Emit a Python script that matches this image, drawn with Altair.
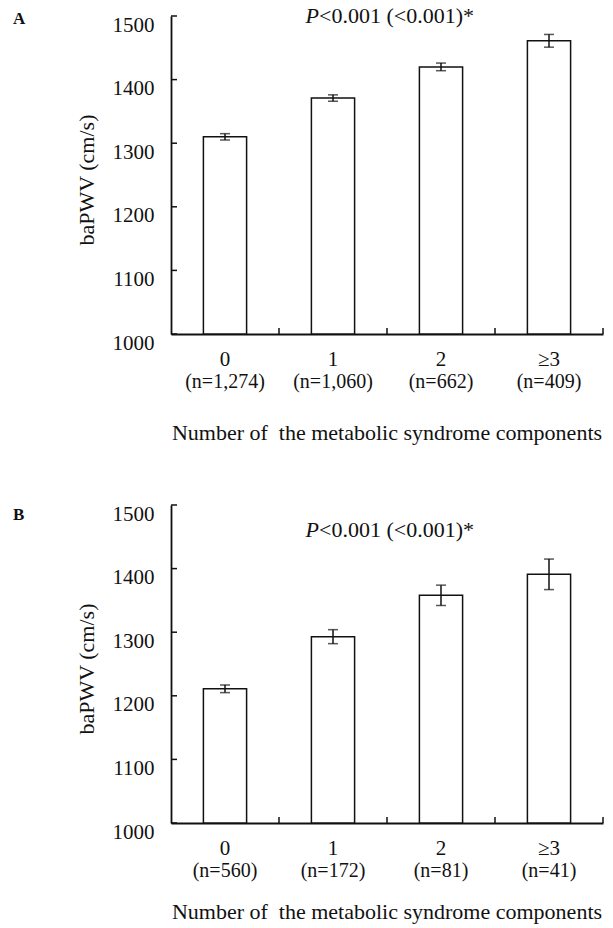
import altair as alt
import pandas as pd

# ---- data ----
categories = ["0", "1", "2", "≥3"]
n_labels_A = ["(n=1,274)", "(n=1,060)", "(n=662)", "(n=409)"]
mean_A = [1310, 1371, 1420, 1461]
err_A = [5, 5, 6, 10]
n_labels_B = ["(n=560)", "(n=172)", "(n=81)", "(n=41)"]
mean_B = [1211, 1293, 1358, 1391]
err_B = [6, 11, 16, 24]
y_ticks = [1000, 1100, 1200, 1300, 1400, 1500]
x_title = "Number of\u00a0 the metabolic syndrome components"
y_title = "baPWV (cm/s)"
p_italic = "P"
p_rest = "<0.001 (<0.001)*"

W, H = 432, 318
FONT = "Liberation Serif"
INK = "#111111"

X_AXIS = alt.Axis(labels=False, ticks=False, title=None, grid=False,
                  domainColor=INK, domainWidth=1.8)
Y_AXIS = alt.Axis(values=y_ticks, format="d", title=None, grid=False,
                  ticks=False, tickSize=0, labelPadding=17, labelFont=FONT,
                  labelFontSize=21, labelColor=INK,
                  labelBaseline="alphabetic", labelOffset=15,
                  domainColor=INK, domainWidth=1.8)
YS = alt.Scale(domain=[1000, 1500], nice=False, zero=False)
XS = alt.Scale(paddingInner=0, paddingOuter=0)


def one(text):
    return pd.DataFrame({"t": [text]})


def xcat(**kw):
    return alt.X("cat:N", sort=categories, scale=XS, axis=X_AXIS, **kw)


def yq(field):
    return alt.Y(field, scale=YS, axis=Y_AXIS)


def panel(label, means, errs, nlabs, p_y, label_y, title_y, frame_y):
    df = pd.DataFrame({
        "cat": categories,
        "mean": means,
        "lo": [m - e for m, e in zip(means, errs)],
        "hi": [m + e for m, e in zip(means, errs)],
        "n": nlabs,
    })
    base = alt.Chart(df)

    bars = base.mark_bar(
        width=alt.RelativeBandSize(0.4), fill="white", stroke=INK, strokeWidth=1.5
    ).encode(x=xcat(), y=yq("mean:Q"), y2=alt.datum(1000))
    err = base.mark_rule(color=INK, strokeWidth=1.5).encode(
        x=xcat(), y=yq("lo:Q"), y2="hi:Q")
    cap_lo = base.mark_tick(orient="horizontal", size=10, thickness=1.5,
                            color=INK).encode(x=xcat(), y=yq("lo:Q"))
    cap_hi = base.mark_tick(orient="horizontal", size=10, thickness=1.5,
                            color=INK).encode(x=xcat(), y=yq("hi:Q"))
    ytick = alt.Chart(pd.DataFrame({"v": y_ticks})).mark_rule(
        color=INK, strokeWidth=1.5
    ).encode(y=yq("v:Q"), x=alt.value(0), x2=alt.value(6))
    xtick = base.mark_rule(color=INK, strokeWidth=1.5).encode(
        x=xcat(bandPosition=1), y=alt.value(H), y2=alt.value(H - 6))
    cat_text = base.mark_text(font=FONT, fontSize=21, baseline="alphabetic",
                              color=INK).encode(
        x=xcat(), y=alt.value(H + 32), text="cat:N")
    n_text = base.mark_text(font=FONT, fontSize=20, baseline="alphabetic",
                            color=INK).encode(
        x=xcat(), y=alt.value(H + 54), text="n:N")
    xt = alt.Chart(one(x_title)).mark_text(
        font=FONT, fontSize=22, baseline="alphabetic", color=INK, align="center"
    ).encode(x=alt.value(W / 2), y=alt.value(title_y), text="t:N")
    yt = alt.Chart(one(y_title)).mark_text(
        font=FONT, fontSize=22, baseline="middle", color=INK, align="center",
        angle=270
    ).encode(x=alt.value(-84), y=alt.value(164), text="t:N")
    p1 = alt.Chart(one(p_italic)).mark_text(
        font=FONT, fontSize=22, fontStyle="italic", baseline="alphabetic",
        color=INK, align="right"
    ).encode(x=alt.value(148), y=alt.value(p_y), text="t:N")
    p2 = alt.Chart(one(p_rest)).mark_text(
        font=FONT, fontSize=22, baseline="alphabetic", color=INK, align="left"
    ).encode(x=alt.value(148), y=alt.value(p_y), text="t:N")
    lab = alt.Chart(one(label)).mark_text(
        font=FONT, fontSize=17, fontWeight="bold", baseline="alphabetic",
        color=INK, align="left"
    ).encode(x=alt.value(-158), y=alt.value(label_y), text="t:N")
    frame = alt.Chart(one("")).mark_rule(color="white", strokeWidth=1).encode(
        x=alt.value(-170.5), x2=alt.value(441.5), y=alt.value(frame_y))
    return alt.layer(bars, err, cap_lo, cap_hi, ytick, xtick, cat_text,
                     n_text, xt, yt, p1, p2, lab, frame).properties(
        width=W, height=H)


A = panel("A", mean_A, err_A, n_labels_A, 7, 8, H + 106, -15.5)
B = panel("B", mean_B, err_B, n_labels_B, 32, 15, H + 96, H + 104.5)

chart = alt.vconcat(A, B, spacing=171, bounds="flush").properties(
    padding=0, autosize=alt.AutoSizeParams(type="pad"), background="white"
).configure_view(stroke=None)

chart.save("out.html", embed_options={"renderer": "svg", "actions": False})
